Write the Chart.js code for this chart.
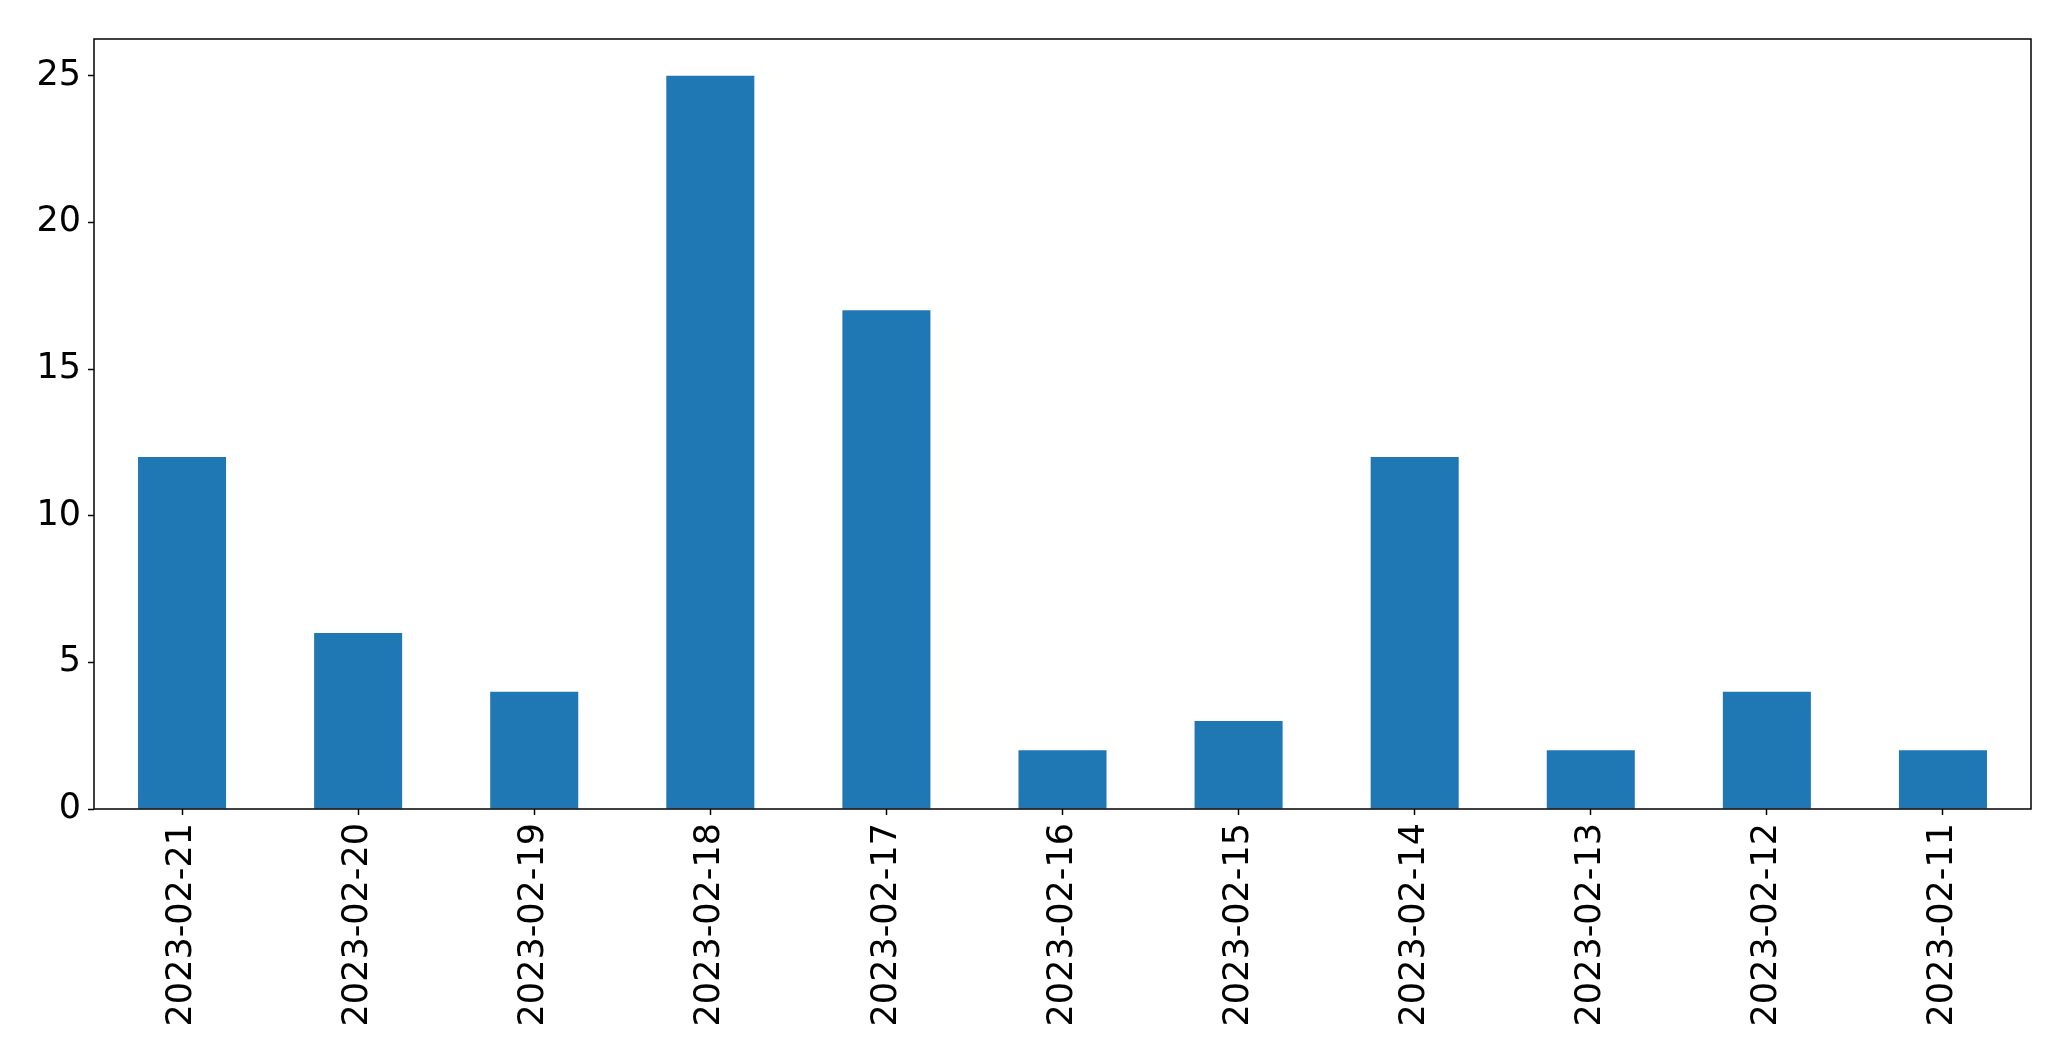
<!DOCTYPE html>
<html>
<head>
<meta charset="utf-8">
<script src="https://cdn.jsdelivr.net/npm/chart.js@4/dist/chart.umd.min.js"></script>
<style>
    html, body { margin: 0; padding: 0; background: #ffffff; }
    #wrap { width: 2071px; height: 1061px; }
</style>
</head>
<body>
<div id="wrap"><canvas id="chart" width="2071" height="1061"></canvas></div>
<script>
const dates = ['2023-02-21', '2023-02-20', '2023-02-19', '2023-02-18', '2023-02-17', '2023-02-16',
    '2023-02-15', '2023-02-14', '2023-02-13', '2023-02-12', '2023-02-11'];
const counts = [12, 6, 4, 25, 17, 2, 3, 12, 2, 4, 2];
const yTicks = [0, 5, 10, 15, 20, 25];
const yMax = 26.25;

const tickFont = { family: 'DejaVu Sans', size: 35 };

// black frame around the plot area, like the matplotlib axes box
const frame = {
    id: 'frame',
    afterDraw(chart) {
        const { ctx, chartArea: a } = chart;
        ctx.save();
        ctx.strokeStyle = '#000000';
        ctx.lineWidth = 1.5;
        ctx.strokeRect(a.left, a.top, a.right - a.left, a.bottom - a.top);
        ctx.restore();
    }
};

new Chart(document.getElementById('chart').getContext('2d'), {
    type: 'bar',
    data: {
        labels: dates,
        datasets: [{
            data: counts,
            backgroundColor: '#1f77b4',
            borderWidth: 0,
            categoryPercentage: 0.5,
            barPercentage: 1.0
        }]
    },
    options: {
        responsive: false,
        animation: false,
        layout: { padding: { top: 39, right: 40, left: 0, bottom: 0 } },
        plugins: { legend: { display: false }, tooltip: { enabled: false } },
        scales: {
            x: {
                offset: true,
                grid: { offset: false, drawOnChartArea: false, tickLength: 6, tickColor: '#000000', tickWidth: 1.5 },
                border: { display: false },
                ticks: { color: '#000000', font: tickFont, minRotation: 90, maxRotation: 90, padding: 8, autoSkip: false },
                afterFit: scale => { scale.height = 252; }
            },
            y: {
                min: 0,
                max: yMax,
                grid: { drawOnChartArea: false, tickLength: 6, tickColor: '#000000', tickWidth: 1.5 },
                border: { display: false },
                ticks: { color: '#000000', font: tickFont, padding: 7 },
                afterBuildTicks: scale => { scale.ticks = yTicks.map(v => ({ value: v })); },
                afterFit: scale => { scale.width = 94; }
            }
        }
    },
    plugins: [frame]
});
</script>
</body>
</html>
